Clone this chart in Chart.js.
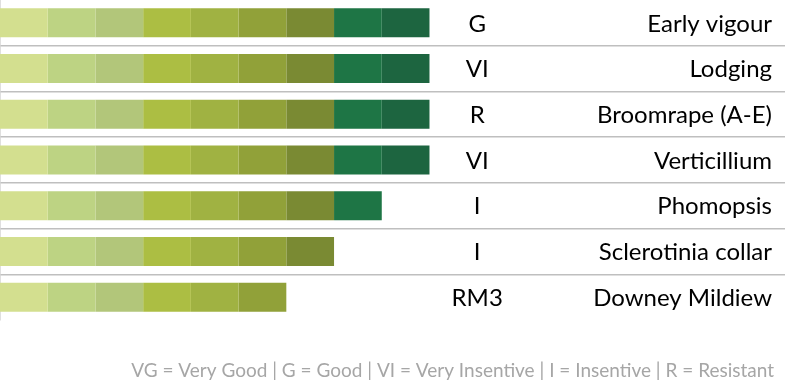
<!DOCTYPE html>
<html>
<head>
<meta charset="utf-8">
<script src="https://cdn.jsdelivr.net/npm/chart.js@4.4.0/dist/chart.umd.min.js"></script>
<style>
html,body{margin:0;padding:0;background:#fff;}
#wrap{width:785px;height:382px;position:relative;}
</style>
</head>
<body>
<div id="wrap"><canvas id="c" width="785" height="382"></canvas></div>
<script>
const categories = ["Early vigour","Lodging","Broomrape (A-E)","Verticillium","Phomopsis","Sclerotinia collar","Downey Mildiew"];
const ratings = ["G","VI","R","VI","I","I","RM3"];
const seg1 = [1,1,1,1,1,1,1];
const seg2 = [1,1,1,1,1,1,1];
const seg3 = [1,1,1,1,1,1,1];
const seg4 = [1,1,1,1,1,1,1];
const seg5 = [1,1,1,1,1,1,1];
const seg6 = [1,1,1,1,1,1,1];
const seg7 = [1,1,1,1,1,1,0];
const seg8 = [1,1,1,1,1,0,0];
const seg9 = [1,1,1,1,0,0,0];
const segments = [seg1,seg2,seg3,seg4,seg5,seg6,seg7,seg8,seg9];
const colors = ["#d3df8f","#bdd383","#b2c67a","#acbe43","#a0b242","#91a139","#7a8a33","#1e7545","#1d6540"];
const legendText = "VG = Very Good | G = Good | VI = Very Insentive | I = Insentive | R = Resistant";
const ratingColumn = 10;
const xMax = 16.45;

const FONT = "Lato, 'Open Sans', sans-serif";

const labelPlugin = {
  id: 'rowLabels',
  afterDraw(chart) {
    const ctx = chart.ctx;
    const xs = chart.scales.x, ys = chart.scales.y;
    ctx.save();
    ctx.fillStyle = '#000';
    ctx.textBaseline = 'middle';
    ctx.font = "24px " + FONT;
    categories.forEach((name, i) => {
      const y = ys.getPixelForValue(i);
      ctx.textAlign = 'center';
      ctx.fillText(ratings[i], xs.getPixelForValue(ratingColumn), y + 1);
      ctx.textAlign = 'right';
      ctx.fillText(name, 772, y + 1);
    });
    ctx.font = "19px " + FONT;
    ctx.fillStyle = '#a6a6a6';
    ctx.textAlign = 'right';
    ctx.fillText(legendText, 774, 371);
    ctx.restore();
  }
};

new Chart(document.getElementById('c'), {
  type: 'bar',
  data: {
    labels: categories,
    datasets: segments.map((s, k) => ({
      data: s,
      backgroundColor: colors[k],
      borderWidth: 0,
      categoryPercentage: 1,
      barPercentage: 0.635
    }))
  },
  options: {
    indexAxis: 'y',
    responsive: false,
    animation: false,
    layout: { padding: { left: 0, right: 0, top: 0, bottom: 62 } },
    plugins: { legend: { display: false }, tooltip: { enabled: false }, title: { display: false } },
    scales: {
      x: { stacked: true, min: 0, max: xMax, display: false },
      y: {
        stacked: true,
        ticks: { display: false },
        grid: {
          offset: true,
          drawTicks: false,
          color: c => (c.type === 'tick' && c.index > 0) ? '#bfbfbf' : 'rgba(0,0,0,0)',
          lineWidth: 1.5
        },
        border: { display: true, color: '#bfbfbf', width: 1.5 }
      }
    }
  },
  plugins: [labelPlugin]
});
</script>
</body>
</html>
